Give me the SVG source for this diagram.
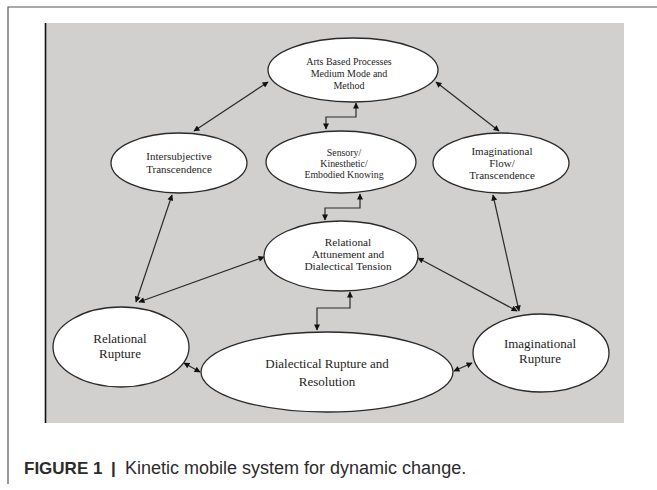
<svg xmlns="http://www.w3.org/2000/svg" width="657" height="490" viewBox="0 0 657 490">
<style>
.frame{stroke:#555;stroke-width:1.2;fill:none}
.panel{fill:#d2cfcf}
.node ellipse{fill:#fff;stroke:#2a2a2a;stroke-width:1.3}
.node text{font-family:"Liberation Serif","Times New Roman",serif;fill:#1e1e1e;text-anchor:middle}
.s10{font-size:10px}.s98{font-size:9.8px}.s11{font-size:11px}.s113{font-size:11.3px}.s13{font-size:13px}
.conn path{fill:none;stroke:#2a2a2a;stroke-width:1.2;marker-start:url(#ah);marker-end:url(#ah)}
.cap{font-family:"Liberation Sans",Arial,sans-serif;font-size:18px;fill:#2b2b2b}
.capb{font-weight:bold;font-size:17px}
</style>
<defs>
<marker id="ah" viewBox="0 0 10 10" refX="9" refY="5" markerWidth="7" markerHeight="6" markerUnits="userSpaceOnUse" orient="auto-start-reverse">
<path d="M0,0 L10,5 L0,10 z" fill="#111"/>
</marker>
</defs>
<rect width="657" height="490" fill="#fff"/>
<path class="frame" d="M657,7 H8 V484"/>
<rect class="panel" x="45" y="23" width="579" height="400"/>
<line x1="45.5" y1="23" x2="45.5" y2="423" stroke="#111" stroke-width="1.6"/>

<g id="connectors" class="conn">
<path d="M268,82 L194,131"/>
<path d="M436,82 L499,131"/>
<path d="M356,103 V117 H326 V129"/>
<path d="M360,194 V208 H325 V220"/>
<path d="M350,292 V308 H317 V330"/>
<path d="M172,195 L136,302"/>
<path d="M264,257 L139,302"/>
<path d="M493,195 L519,311"/>
<path d="M418,258 L517,311"/>
<path d="M184,363 L200,372"/>
<path d="M454,371 L472,363"/>
</g>

<g id="arts" class="node">
<ellipse cx="353" cy="70" rx="85" ry="32"/>
<text class="s10" x="349" y="65">Arts Based Processes</text>
<text class="s10" x="349" y="77">Medium Mode and</text>
<text class="s10" x="349" y="89">Method</text>
</g>
<g id="intersubjective" class="node">
<ellipse cx="179" cy="163" rx="68" ry="30"/>
<text class="s11" x="179" y="160">Intersubjective</text>
<text class="s11" x="179" y="173">Transcendence</text>
</g>
<g id="sensory" class="node">
<ellipse cx="341" cy="162" rx="75" ry="31"/>
<text class="s98" x="344" y="156">Sensory/</text>
<text class="s98" x="344" y="167">Kinesthetic/</text>
<text class="s98" x="344" y="178">Embodied Knowing</text>
</g>
<g id="imaginational-flow" class="node">
<ellipse cx="501" cy="163" rx="68" ry="30"/>
<text class="s11" x="502" y="155">Imaginational</text>
<text class="s11" x="502" y="167">Flow/</text>
<text class="s11" x="502" y="179">Transcendence</text>
</g>
<g id="relational-attunement" class="node">
<ellipse cx="341" cy="256" rx="77" ry="35"/>
<text class="s113" x="348" y="246">Relational</text>
<text class="s113" x="348" y="258">Attunement and</text>
<text class="s113" x="348" y="270">Dialectical Tension</text>
</g>
<g id="relational-rupture" class="node">
<ellipse cx="121" cy="347" rx="68" ry="40"/>
<text class="s13" x="120" y="343">Relational</text>
<text class="s13" x="120" y="358">Rupture</text>
</g>
<g id="dialectical" class="node">
<ellipse cx="327" cy="372" rx="126" ry="40"/>
<text class="s13" x="327" y="368">Dialectical Rupture and</text>
<text class="s13" x="327" y="386">Resolution</text>
</g>
<g id="imaginational-rupture" class="node">
<ellipse cx="541" cy="353" rx="68" ry="39"/>
<text class="s13" x="540" y="348">Imaginational</text>
<text class="s13" x="540" y="363">Rupture</text>
</g>

<text class="cap" y="474"><tspan class="capb" x="24">FIGURE 1</tspan><tspan class="capb" x="111">|</tspan><tspan x="125">Kinetic mobile system for dynamic change.</tspan></text>
</svg>
